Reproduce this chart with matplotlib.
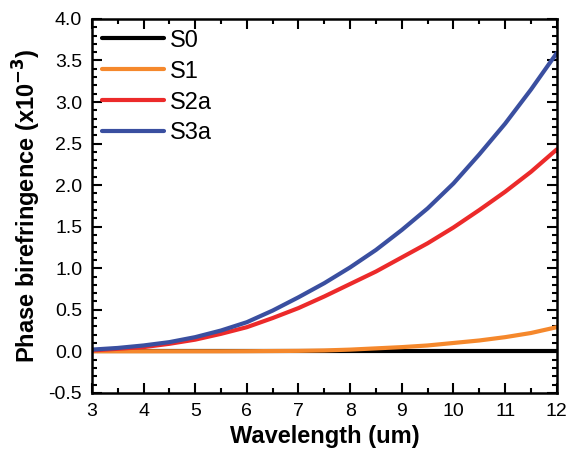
import matplotlib
matplotlib.use("Agg")
import matplotlib.pyplot as plt
from matplotlib.ticker import MultipleLocator, FormatStrFormatter

plt.rcParams['font.family'] = ['Liberation Sans', 'DejaVu Sans']

wavelength = [3.0, 3.5, 4.0, 4.5, 5.0, 5.5, 6.0, 6.5, 7.0, 7.5,
              8.0, 8.5, 9.0, 9.5, 10.0, 10.5, 11.0, 11.5, 12.0]
s0 = [0.0] * 19
s1 = [0.0, 0.0, 0.0, 0.0, 0.0, 0.0, 0.001, 0.003, 0.005, 0.01,
      0.02, 0.035, 0.05, 0.07, 0.10, 0.13, 0.17, 0.22, 0.29]
s2a = [0.01, 0.03, 0.05, 0.09, 0.14, 0.21, 0.29, 0.40, 0.52, 0.66,
       0.81, 0.96, 1.13, 1.30, 1.49, 1.70, 1.92, 2.16, 2.43]
s3a = [0.02, 0.04, 0.07, 0.11, 0.17, 0.25, 0.35, 0.49, 0.65, 0.82,
       1.01, 1.22, 1.46, 1.72, 2.02, 2.37, 2.74, 3.15, 3.59]

series = [("S0", s0, "#000000"),
          ("S1", s1, "#f5882c"),
          ("S2a", s2a, "#ec2a2a"),
          ("S3a", s3a, "#3a4fa0")]

fig = plt.figure(figsize=(5.67, 4.51), dpi=100)
ax = fig.add_axes([0.162, 0.129, 0.820, 0.829])

for name, vals, color in series:
    ax.plot(wavelength, vals, color=color, lw=3.0, label=name,
            solid_capstyle='round', solid_joinstyle='round')

ax.set_xlim(3, 12)
ax.set_ylim(-0.5, 4.0)
ax.xaxis.set_major_locator(MultipleLocator(1))
ax.xaxis.set_minor_locator(MultipleLocator(0.5))
ax.yaxis.set_major_locator(MultipleLocator(0.5))
ax.yaxis.set_minor_locator(MultipleLocator(0.1))
ax.yaxis.set_major_formatter(FormatStrFormatter('%.1f'))

ax.tick_params(which='both', direction='in', top=True, right=True,
               labelsize=14, width=1.5)
ax.tick_params(which='major', length=7, pad=7)
ax.tick_params(which='minor', length=3.5)
for s in ax.spines.values():
    s.set_linewidth(1.8)

ax.set_xlabel("Wavelength (um)", fontsize=17, fontweight='bold', labelpad=4)
ax.set_ylabel(r"Phase birefringence (x10$^{\mathbf{-3}}$)", fontsize=17,
              fontweight='bold', labelpad=4)

ax.legend(loc='upper left', frameon=False, fontsize=17, handlelength=2.6,
          handletextpad=0.25, labelspacing=0.38, borderaxespad=0.1,
          borderpad=0.35, bbox_to_anchor=(0.0, 1.0))

fig.savefig("out.png", dpi=100)
